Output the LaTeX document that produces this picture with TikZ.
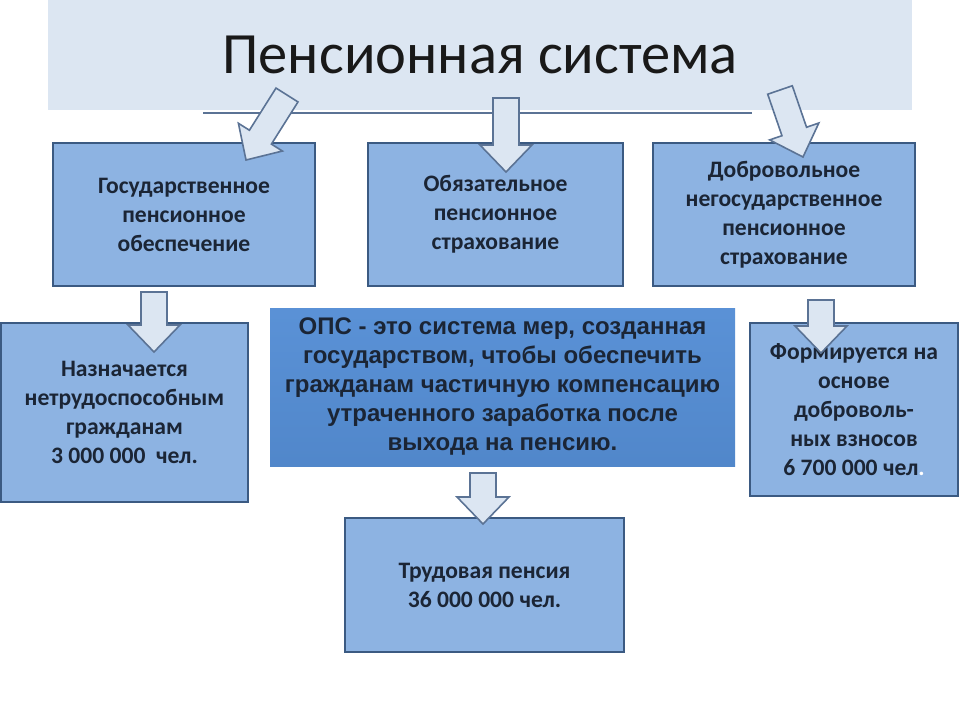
\documentclass[tikz,border=0pt]{standalone}
\usepackage{fontspec}
\setmainfont{Carlito}
\newfontfamily\opsfont{Liberation Sans}
\usetikzlibrary{calc}
\definecolor{bandfill}{HTML}{DCE6F2}
\definecolor{boxfill}{HTML}{8DB3E2}
\definecolor{boxline}{HTML}{3B5A82}
\definecolor{opsfill}{HTML}{558ED5}
\definecolor{arrowfill}{HTML}{DCE6F2}
\definecolor{arrowline}{HTML}{5B7395}
\definecolor{textnavy}{HTML}{1B2535}
\begin{document}
\begin{tikzpicture}[x=1pt,y=-1pt,
  box/.style={draw=boxline,line width=2.4pt,fill=boxfill,align=center,inner sep=0pt,
    text=textnavy,font=\fontsize{23.6}{29}\selectfont\bfseries},
  blockarr/.style={draw=arrowline,fill=arrowfill,line width=1.6pt,line join=miter,
    to path={($(\tikztostart)!13pt!90:(\tikztotarget)$)
      -- ($(\tikztotarget)!27pt!(\tikztostart)!13pt!90:(\tikztotarget)$)
      -- ($(\tikztotarget)!27pt!(\tikztostart)!26pt!90:(\tikztotarget)$)
      -- (\tikztotarget)
      -- ($(\tikztotarget)!27pt!(\tikztostart)!26pt!-90:(\tikztotarget)$)
      -- ($(\tikztotarget)!27pt!(\tikztostart)!13pt!-90:(\tikztotarget)$)
      -- ($(\tikztostart)!13pt!-90:(\tikztotarget)$) -- cycle}}]
\useasboundingbox (0,0) rectangle (960,720);
\fill[white] (0,0) rectangle (960,720);

\fill[bandfill] (48,0) rectangle (912,110);
\draw[arrowline,line width=1.8pt] (203,113)--(752,113);
\node[text=black!90,font=\fontsize{58.5}{62}\selectfont] (title) at (480,55) {Пенсионная система};

\node[box,minimum width=262,minimum height=143] (gpo) at (184,214.5)
  {Государственное\\пенсионное\\обеспечение};
\node[box,minimum width=255,minimum height=143] (ops) at (495.5,214.5)
  {Обязательное\\пенсионное\\страхование};
\node[box,minimum width=262,minimum height=143] (dnps) at (784,214.5)
  {Добровольное\\негосударственное\\пенсионное\\страхование};
\node[box,minimum width=247,minimum height=179] (naz) at (124.5,412.5)
  {Назначается\\нетрудоспособным\\гражданам\\3 000 000~~чел.};
\node[box,draw=none,top color=opsfill!97!white,bottom color=opsfill!95!black,
  minimum width=465,minimum height=158,font=\fontsize{24}{29}\selectfont\opsfont\bfseries]
  (opsdef) at (502.5,387)
  {ОПС - это система мер, созданная\\государством, чтобы обеспечить\\гражданам частичную компенсацию\\утраченного заработка после\\выхода на пенсию.};
\node[box,minimum width=208,minimum height=173] (form) at (854,409.5)
  {Формируется на\\основе\\доброволь-\\ных взносов\\6 700 000 чел{\color{white}.}};
\node[box,minimum width=279,minimum height=134] (trud) at (484.5,585)
  {Трудовая пенсия\\36 000 000 чел.};

\coordinate (t1) at (287,95);
\coordinate (h1) at (246,160);
\coordinate (t2) at (506,98);
\coordinate (h2) at (506,172);
\coordinate (t3) at (780,90);
\coordinate (h3) at (803,157);
\coordinate (t4) at (154,292);
\coordinate (h4) at (154,352);
\coordinate (t5) at (821,300);
\coordinate (h5) at (821,353);
\coordinate (t6) at (483,473);
\coordinate (h6) at (483,524);

\draw[blockarr] (t1) to (h1);
\draw[blockarr] (t2) to (h2);
\draw[blockarr] (t3) to (h3);
\draw[blockarr] (t4) to (h4);
\draw[blockarr] (t5) to (h5);
\draw[blockarr] (t6) to (h6);
\end{tikzpicture}
\end{document}
